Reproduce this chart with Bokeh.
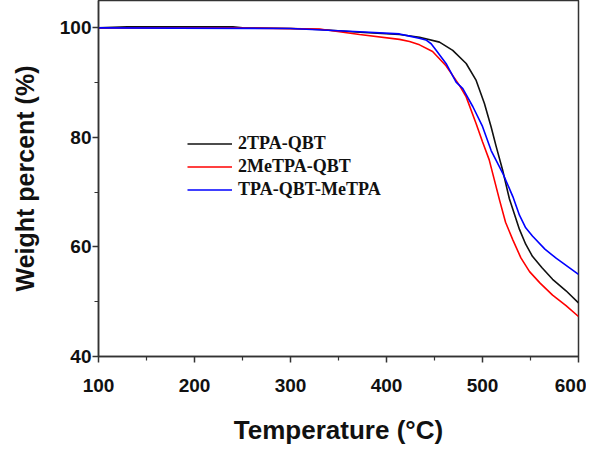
from bokeh.plotting import figure
from bokeh.models import Range1d, FixedTicker, Legend, LegendItem
from bokeh.embed import file_html
from bokeh.resources import INLINE

# Data
temp_2tpa = [100, 130, 240, 250, 300, 330, 372, 413.5, 434.4, 455.2, 469, 483, 493.4, 502, 509, 514, 521, 528, 538.5, 545, 552, 562, 573, 587, 600]
wt_2tpa = [100, 100.2, 100.2, 100, 99.9, 99.7, 99.2, 98.8, 98.3, 97.4, 95.9, 93.5, 90.4, 86.2, 81.9, 78.5, 74, 68.8, 63.2, 60.5, 58.3, 56.2, 54.1, 52, 49.8]

temp_2me = [100, 240, 330, 372, 413.5, 424, 434.4, 448, 462, 476, 483, 493.4, 500, 507, 517.7, 524, 531.6, 540, 549, 560, 573, 587, 600]
wt_2me = [100, 100, 99.8, 98.8, 97.9, 97.5, 96.9, 95.7, 93.1, 89.5, 87.4, 82.5, 79.2, 75.9, 68.6, 64.5, 61.3, 58, 55.5, 53.4, 51.2, 49.3, 47.3]

temp_mix = [100, 300, 372, 413.5, 424, 434, 441, 446.5, 451.7, 462, 472.5, 479.5, 490, 500, 509, 521, 531.6, 538.5, 545, 552, 565, 577, 600]
wt_mix = [100, 99.9, 99.3, 98.9, 98.5, 98.1, 97.8, 97.1, 95.9, 93.5, 90.1, 88.9, 85.6, 82, 77.6, 73.5, 69.2, 65.8, 63.5, 62, 59.6, 57.9, 55]

series_names = ["2TPA-QBT", "2MeTPA-QBT", "TPA-QBT-MeTPA"]
series_colors = ["#111111", "#ff0000", "#0000ff"]

x_ticks = [100, 200, 300, 400, 500, 600]
x_minor = [150, 250, 350, 450, 550]
y_ticks = [40, 60, 80, 100]
y_minor = [50, 70, 90]

p = figure(frame_width=480, frame_height=356, output_backend="svg", toolbar_location=None,
           x_range=Range1d(100, 600), y_range=Range1d(40, 105),
           min_border_left=98, min_border_right=8, min_border_top=0, min_border_bottom=2)

p.grid.visible = False
p.outline_line_color = "#333333"
p.outline_line_width = 1.5
p.background_fill_color = "white"
p.border_fill_color = "white"

p.xaxis.ticker = FixedTicker(ticks=x_ticks, minor_ticks=x_minor)
p.yaxis.ticker = FixedTicker(ticks=y_ticks, minor_ticks=y_minor)

for ax in (p.xaxis[0], p.yaxis[0]):
    ax.axis_line_color = "#333333"
    ax.axis_line_width = 1.5
    ax.major_tick_line_color = "#333333"
    ax.minor_tick_line_color = "#333333"
    ax.major_tick_line_width = 1.5
    ax.minor_tick_line_width = 1.2
    ax.major_tick_in = 0
    ax.major_tick_out = 6
    ax.minor_tick_in = 0
    ax.minor_tick_out = 4
    ax.major_label_text_font = "Liberation Sans"
    ax.major_label_text_font_style = "bold"
    ax.major_label_text_font_size = "19px"
    ax.major_label_text_color = "#111111"
    ax.axis_label_text_font = "Liberation Sans"
    ax.axis_label_text_font_style = "bold"
    ax.axis_label_text_color = "#111111"

p.xaxis.axis_label = "Temperature (°C)"
p.xaxis.axis_label_text_font_size = "26px"
p.xaxis.major_label_standoff = 16
p.xaxis.axis_label_standoff = 20

p.yaxis.axis_label = "Weight percent (%)"
p.yaxis.axis_label_text_font_size = "25px"
p.yaxis.major_label_standoff = 1
p.yaxis.axis_label_standoff = 18

r1 = p.line(temp_2tpa, wt_2tpa, line_color=series_colors[0], line_width=1.6)
r2 = p.line(temp_2me, wt_2me, line_color=series_colors[1], line_width=1.6)
r3 = p.line(temp_mix, wt_mix, line_color=series_colors[2], line_width=1.6)

legend = Legend(items=[LegendItem(label=series_names[0], renderers=[r1]),
                       LegendItem(label=series_names[1], renderers=[r2]),
                       LegendItem(label=series_names[2], renderers=[r3])],
                location=(89, 155), padding=0, margin=0, spacing=0,
                glyph_width=45, glyph_height=23, label_height=23, label_standoff=6,
                label_text_font="Liberation Serif", label_text_font_style="bold",
                label_text_font_size="18px", label_text_color="#111111",
                border_line_color=None, background_fill_alpha=0)
p.add_layout(legend, "center")

open("out.html", "w").write(file_html(p, INLINE))
